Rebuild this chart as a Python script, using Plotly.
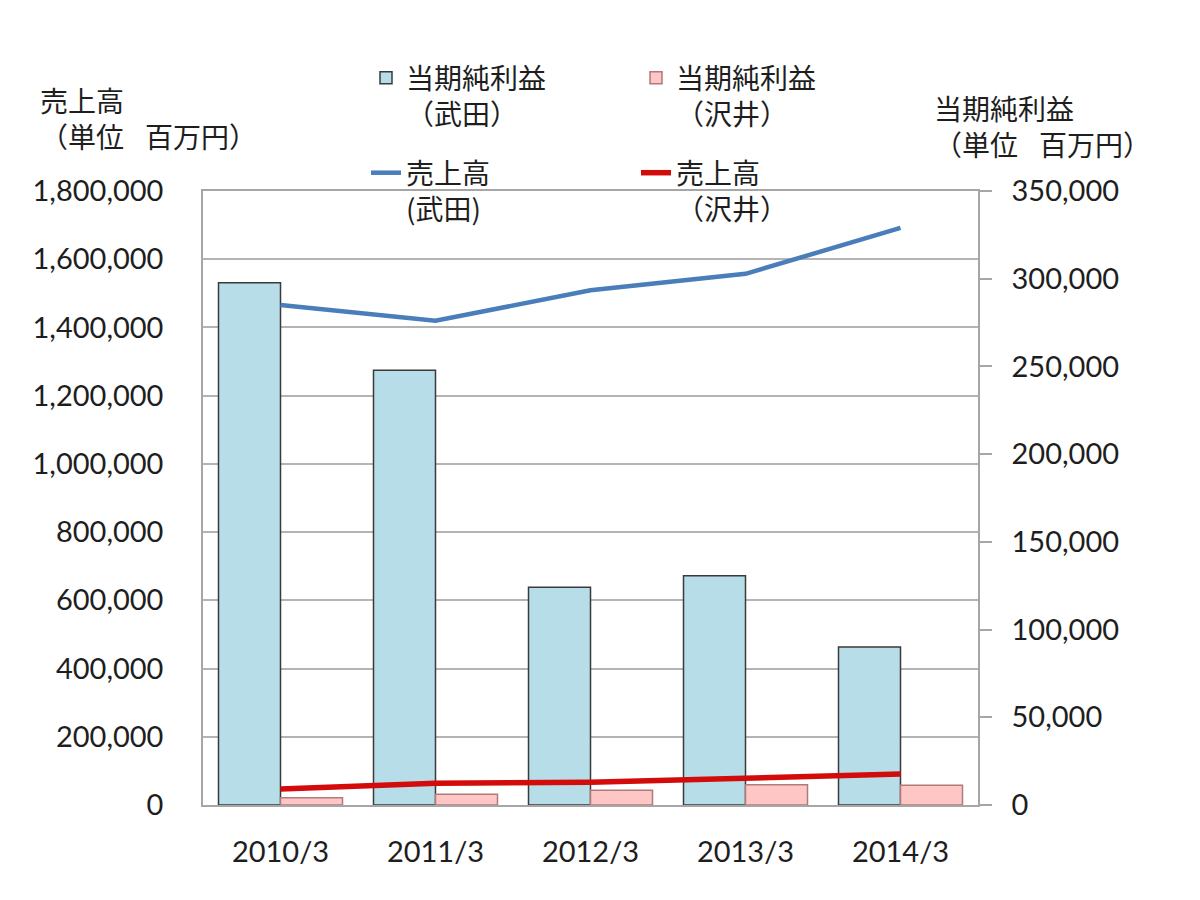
import plotly.graph_objects as go

# ---- data (百万円) ----
categories = ["2010/3", "2011/3", "2012/3", "2013/3", "2014/3"]
takeda_net_income = [297744, 247868, 124162, 130694, 90000]
sawai_net_income = [4200, 6100, 8400, 11500, 11300]
takeda_sales = [1465965, 1419385, 1508932, 1557267, 1691685]
sawai_sales = [46800, 63500, 66500, 79000, 90700]

left_title = "売上高<br>（単位\u2002\u2005百万円）"
right_title = "当期純利益<br>（単位\u2002\u2005百万円）"

W, H = 1200, 900
L, R, T, B = 203, 222, 191, 95
PW, PH = W - L - R, H - T - B

def px(xp):
    return (xp - L) / PW

def py(yp):
    return (H - B - yp) / PH

NUM_FONT = "Lato, 'Noto Sans CJK JP', sans-serif"
JP_FONT = "'Noto Sans CJK JP', sans-serif"
TXT = "#1e1e1e"
AXIS = "#a6a6a6"
GRID = "#b4b4b4"

fig = go.Figure()

# bars: net income on right-side axis (y)
fig.add_trace(go.Bar(
    x=categories, y=takeda_net_income, name="当期純利益<br>（武田）",
    marker=dict(color="#b7dde8", line=dict(color="#3a3a3a", width=1.5)),
    legend="legend", yaxis="y",
))
fig.add_trace(go.Bar(
    x=categories, y=sawai_net_income, name="当期純利益<br>（沢井）",
    marker=dict(color="#ffc6c6", line=dict(color="#b07a7a", width=1.5)),
    legend="legend", yaxis="y",
))

# lines: sales on left-side axis (y2, overlaying so lines are drawn on top)
fig.add_trace(go.Scatter(
    x=categories, y=takeda_sales, name="売上高<br>(武田)", mode="lines",
    line=dict(color="#4a7ebb", width=4.5),
    legend="legend2", yaxis="y2",
))
fig.add_trace(go.Scatter(
    x=categories, y=sawai_sales, name="売上高<br>（沢井）", mode="lines",
    line=dict(color="#d40b0b", width=5.5),
    legend="legend2", yaxis="y2",
))

fig.update_layout(
    width=W, height=H,
    margin=dict(l=L, r=R, t=T, b=B, pad=0),
    paper_bgcolor="white", plot_bgcolor="white",
    font=dict(family=NUM_FONT, size=29, color=TXT),
    barmode="group", bargap=0.2, bargroupgap=0,
    xaxis=dict(
        type="category", showline=True, mirror=True, linecolor=AXIS, linewidth=1.5,
        ticks="", showgrid=False, ticklabelstandoff=20,
        tickfont=dict(family=NUM_FONT, size=29, color=TXT),
    ),
    yaxis=dict(
        side="right", range=[0, 350000], dtick=50000, tickformat=",",
        showgrid=False, zeroline=False,
        showline=True, linecolor=AXIS, linewidth=1.5,
        ticks="outside", ticklen=12, tickcolor=AXIS, tickwidth=1.5,
        ticklabelstandoff=14,
        tickfont=dict(family=NUM_FONT, size=29, color=TXT),
    ),
    yaxis2=dict(
        overlaying="y", side="left", range=[0, 1800000], dtick=200000, tickformat=",",
        showgrid=True, gridcolor=GRID, gridwidth=1.5, zeroline=False,
        showline=True, linecolor=AXIS, linewidth=1.5,
        ticks="", ticklabelstandoff=32,
        tickfont=dict(family=NUM_FONT, size=29, color=TXT),
    ),
    legend=dict(
        orientation="h", x=px(366), y=py(53), xanchor="left", yanchor="top",
        entrywidth=225, valign="top", bgcolor="rgba(0,0,0,0)",
        font=dict(family=JP_FONT, size=28, color=TXT), traceorder="normal",
    ),
    legend2=dict(
        orientation="h", x=px(366), y=py(148), xanchor="left", yanchor="top",
        entrywidth=225, valign="top", bgcolor="rgba(0,0,0,0)",
        font=dict(family=JP_FONT, size=28, color=TXT), traceorder="normal",
    ),
    annotations=[
        dict(text=left_title, xref="paper", yref="paper", x=px(38), y=py(78),
             xanchor="left", yanchor="top", align="left", showarrow=False,
             font=dict(family=JP_FONT, size=28, color=TXT)),
        dict(text=right_title, xref="paper", yref="paper", x=px(932), y=py(86),
             xanchor="left", yanchor="top", align="left", showarrow=False,
             font=dict(family=JP_FONT, size=28, color=TXT)),
    ],
    showlegend=True,
)

fig.write_html("out.html")
